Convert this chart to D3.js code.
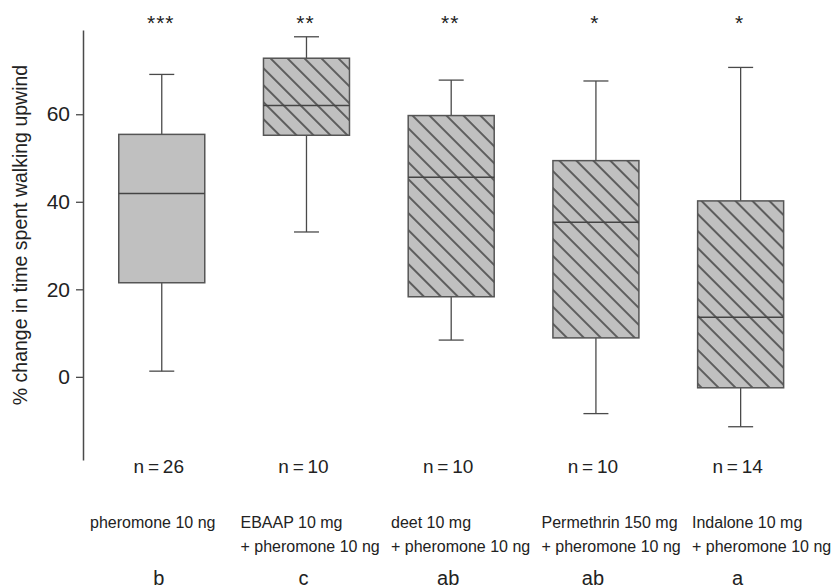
<!DOCTYPE html>
<html>
<head>
<meta charset="utf-8">
<script src="https://cdn.jsdelivr.net/npm/d3@7"></script>
<style>
  html, body { margin: 0; padding: 0; background: #fff; }
  text { font-family: "Liberation Sans", Arial, Helvetica, sans-serif; fill: #222; }
</style>
</head>
<body>
<svg id="chart" width="832" height="588"></svg>
<script>
// ---- data ----
const categories = ["pheromone", "EBAAP", "deet", "Permethrin", "Indalone"];
const labelLine1 = ["pheromone 10 ng", "EBAAP 10 mg", "deet 10 mg", "Permethrin 150 mg", "Indalone 10 mg"];
const labelLine2 = ["", "+ pheromone 10 ng", "+ pheromone 10 ng", "+ pheromone 10 ng", "+ pheromone 10 ng"];
const whiskerLow  = [1.3, 33.1, 8.4, -8.4, -11.4];
const q1          = [21.5, 55.2, 18.3, 8.9, -2.5];
const median      = [41.9, 62.0, 45.6, 35.3, 13.6];
const q3          = [55.4, 72.8, 59.7, 49.4, 40.2];
const whiskerHigh = [69.1, 77.7, 67.8, 67.6, 70.7];
const hatched     = [false, true, true, true, true];
const nLabels     = ["n\u2009=\u200926", "n\u2009=\u200910", "n\u2009=\u200910", "n\u2009=\u200910", "n\u2009=\u200914"];
const stars       = ["***", "**", "**", "*", "*"];
const groupLetters = ["b", "c", "ab", "ab", "a"];
const yTicks      = [0, 20, 40, 60];
const yTitle      = "% change in time spent walking upwind";

// ---- layout ----
const svg = d3.select("#chart");
const y = d3.scaleLinear().domain([-19, 79.25]).range([460, 30]);
const x = d3.scaleBand().domain(categories).range([89.4, 813]).padding(0);
const xl = d3.scalePoint().domain(categories).range([90, 692]);
const boxW = 86, capW = 25;
const lineCol = "#4a4a4a";

// hatch pattern
const defs = svg.append("defs");
const pat = defs.append("pattern")
  .attr("id", "hatch").attr("patternUnits", "userSpaceOnUse")
  .attr("width", 12).attr("height", 12)
  .attr("patternTransform", "rotate(45)");
pat.append("rect").attr("width", 12).attr("height", 12).attr("fill", "#c0c0c0");
pat.append("line").attr("x1", 0).attr("x2", 12).attr("y1", 6).attr("y2", 6)
  .attr("stroke", "#1a1a1a").attr("stroke-width", 1.2);

// y axis
const yAxis = d3.axisLeft(y).tickValues(yTicks).tickSize(7).tickSizeOuter(0).tickPadding(6);
const ga = svg.append("g").attr("transform", "translate(83,0)").call(yAxis);
ga.select(".domain").attr("stroke", lineCol).attr("stroke-width", 1.5);
ga.selectAll(".tick line").attr("stroke", lineCol).attr("stroke-width", 1.3);
ga.selectAll(".tick text").style("font-size", "21px").style("font-family", "'Liberation Sans', Arial, sans-serif").attr("fill", "#222");

svg.append("text")
  .attr("transform", "translate(27," + 235 + ") rotate(-90)")
  .attr("text-anchor", "middle")
  .style("font-size", "19.5px")
  .text(yTitle);

// boxes
const cx = c => x(c) + x.bandwidth() / 2;
const g = svg.append("g");
categories.forEach((c, i) => {
  const xc = cx(c);
  // whiskers
  g.append("line").attr("x1", xc).attr("x2", xc).attr("y1", y(q3[i])).attr("y2", y(whiskerHigh[i]))
    .attr("stroke", lineCol).attr("stroke-width", 1.3);
  g.append("line").attr("x1", xc).attr("x2", xc).attr("y1", y(q1[i])).attr("y2", y(whiskerLow[i]))
    .attr("stroke", lineCol).attr("stroke-width", 1.3);
  g.append("line").attr("x1", xc - capW / 2).attr("x2", xc + capW / 2).attr("y1", y(whiskerHigh[i])).attr("y2", y(whiskerHigh[i]))
    .attr("stroke", lineCol).attr("stroke-width", 1.3);
  g.append("line").attr("x1", xc - capW / 2).attr("x2", xc + capW / 2).attr("y1", y(whiskerLow[i])).attr("y2", y(whiskerLow[i]))
    .attr("stroke", lineCol).attr("stroke-width", 1.3);
  // box
  g.append("rect").attr("x", xc - boxW / 2).attr("width", boxW)
    .attr("y", y(q3[i])).attr("height", y(q1[i]) - y(q3[i]))
    .attr("fill", hatched[i] ? "url(#hatch)" : "#c0c0c0")
    .attr("stroke", "#555").attr("stroke-width", 1.5);
  // median
  g.append("line").attr("x1", xc - boxW / 2).attr("x2", xc + boxW / 2).attr("y1", y(median[i])).attr("y2", y(median[i]))
    .attr("stroke", "#444").attr("stroke-width", 1.5);
  // stars
  svg.append("text").attr("x", xc - 1).attr("y", 30).attr("text-anchor", "middle")
    .style("font-size", "21px").style("letter-spacing", "1px").text(stars[i]);
  // n
  svg.append("text").attr("x", xc - 3).attr("y", 473).attr("text-anchor", "middle")
    .style("font-size", "19px").text(nLabels[i]);
  // treatment labels
  svg.append("text").attr("x", xl(c)).attr("y", 528).style("font-size", "16px").text(labelLine1[i]);
  if (labelLine2[i]) svg.append("text").attr("x", xl(c)).attr("y", 552).style("font-size", "16px").text(labelLine2[i]);
  // group letters
  svg.append("text").attr("x", xc - 3).attr("y", 585).attr("text-anchor", "middle")
    .style("font-size", "20px").text(groupLetters[i]);
});
</script>
</body>
</html>
